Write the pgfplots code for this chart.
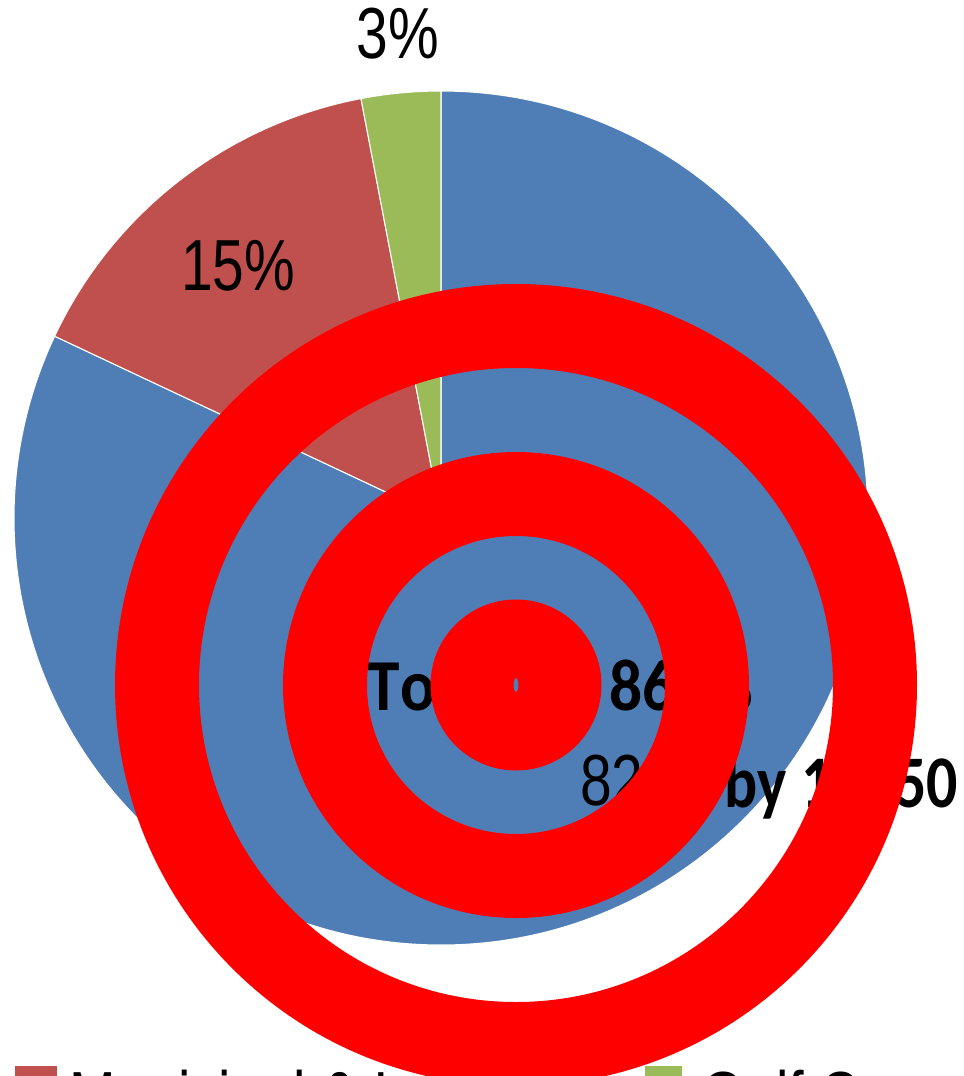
\documentclass[border=0pt]{standalone}
\usepackage{pgfplots}
\pgfplotsset{compat=1.18}
\usepackage{graphicx}
\usepackage{fontspec}
\setmainfont{Liberation Sans}
\newfontfamily\carlito[Kerning=Off]{Carlito}
\definecolor{pieblue}{HTML}{4F7EB6}
\definecolor{piered}{HTML}{C0504D}
\definecolor{piegreen}{HTML}{9BBB59}
\definecolor{tred}{HTML}{FF0000}
\begin{document}
\begin{tikzpicture}
\begin{axis}[scale only axis, width=9.63cm, height=10.76cm,
  xmin=0, xmax=963, ymin=0, ymax=1076, y dir=reverse,
  axis line style={draw=none}, ticks=none,
  clip=false, anchor=south west, at={(0,0)}]
\pgfplotsextra{
  \xdef\cum{90}
  \foreach \v/\c in {82/pieblue, 15/piered, 3/piegreen}{
    \pgfmathsetmacro\e{\cum-3.6*\v}
    \fill[\c, draw=white, line width=0.3pt] (axis cs:441,518) -- ++(\cum:4.27cm)
      arc[start angle=\cum, end angle=\e, radius=4.27cm] -- cycle;
    \xdef\cum{\e}
  }
}
% pie labels
\node[inner sep=0] at (axis cs:398,34) {\scalebox{1}[1.27]{\fontsize{16.2}{18}\selectfont 3\%}};
\node[inner sep=0] at (axis cs:238,266) {\scalebox{1}[1.27]{\fontsize{16.2}{18}\selectfont 15\%}};
\node[inner sep=0] at (axis cs:637,781) {\scalebox{1}[1.27]{\fontsize{16.2}{18}\selectfont 82\%}};
% overlay text
\node[inner sep=0, anchor=base west] at (axis cs:367,710) {\scalebox{1}[1.12]{\carlito\bfseries\fontsize{18.6}{20}\selectfont Total\hspace{1.03cm}86\hspace{0.3cm}\%}};
\node[inner sep=0, anchor=base west] at (axis cs:724,807) {\scalebox{1}[1.2]{\carlito\bfseries\fontsize{17.6}{20}\selectfont by 12050}};
% legend
\fill[piered] (axis cs:15,1066) rectangle (axis cs:57,1120);
\node[inner sep=0, anchor=base west] at (axis cs:69,1121) {\scalebox{1}[1.27]{\fontsize{15.9}{18}\selectfont Municipal \& Industrial}};
\fill[piegreen] (axis cs:645,1066) rectangle (axis cs:682,1120);
\node[inner sep=0, anchor=base west] at (axis cs:701,1121) {\scalebox{1}[1.27]{\fontsize{15.9}{18}\selectfont Golf Course}};
% target overlay
\fill[tred, even odd rule] (axis cs:516,685) circle[radius=4.01cm] circle[radius=3.17cm];
\fill[tred, even odd rule] (axis cs:516,685) circle[radius=2.33cm] circle[radius=1.49cm];
\fill[tred, even odd rule] (axis cs:516,685) circle[radius=0.855cm] ellipse[x radius=0.025cm, y radius=0.07cm];
\end{axis}
\pgfresetboundingbox
\useasboundingbox (0,0) rectangle (9.63cm,10.76cm);
\end{tikzpicture}
\end{document}
